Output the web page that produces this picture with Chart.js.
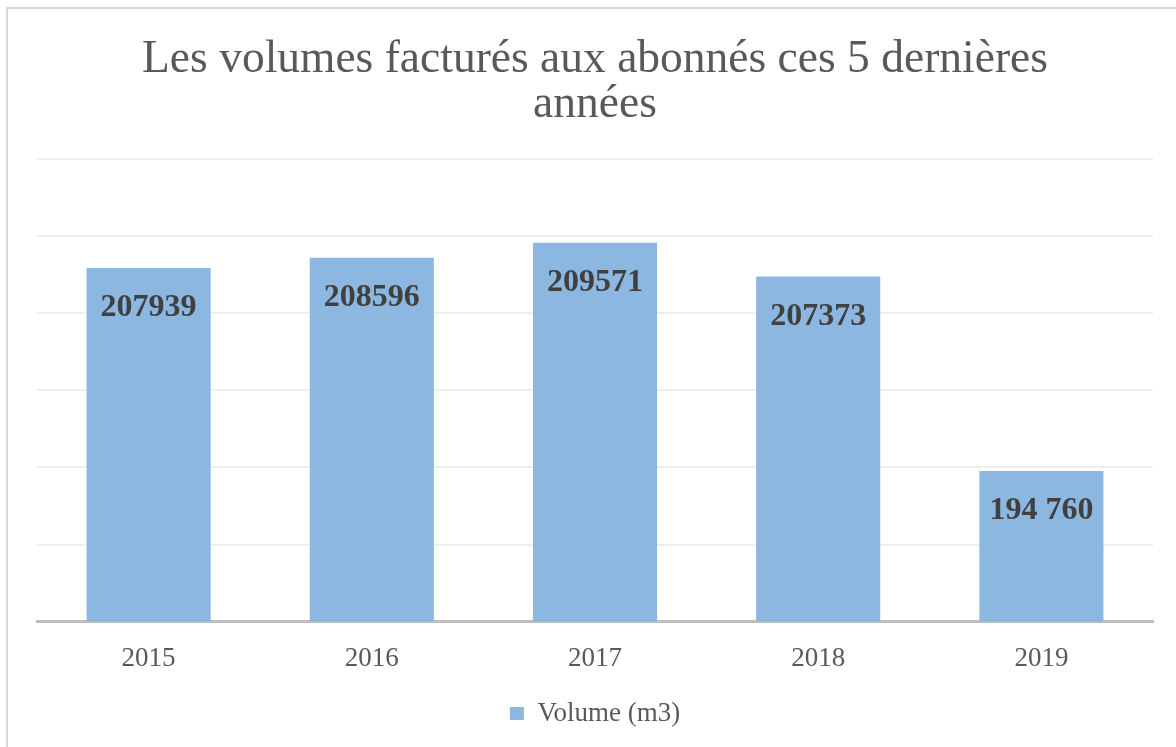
<!DOCTYPE html>
<html>
<head>
<meta charset="utf-8">
<script src="https://cdn.jsdelivr.net/npm/chart.js@4.4.0/dist/chart.umd.min.js"></script>
<style>
  html, body { margin: 0; padding: 0; background: #fff; }
  #frame { position: absolute; left: 6px; top: 7px; width: 1300px; height: 900px;
           border-left: 2px solid #d9d9d9; border-top: 2px solid #d9d9d9; }
  #wrap { position: absolute; left: 0; top: 0; width: 1176px; height: 747px; }
</style>
</head>
<body>
<div id="frame"></div>
<div id="wrap"><canvas id="chart" width="1176" height="747"></canvas></div>
<script>
// donnees
var years = ['2015', '2016', '2017', '2018', '2019'];
var volumes = [207939, 208596, 209571, 207373, 194760];
var volumeLabels = ['207939', '208596', '209571', '207373', '194 760'];

// etiquettes de valeur dans les barres
var barLabels = {
    id: 'barLabels',
    afterDatasetsDraw: function(chart) {
        var ctx = chart.ctx;
        var meta = chart.getDatasetMeta(0);
        ctx.save();
        ctx.font = 'bold 32px "Liberation Serif"';
        ctx.fillStyle = '#404040';
        ctx.textAlign = 'center';
        ctx.textBaseline = 'middle';
        for (var i = 0; i < meta.data.length; i++) {
            var bar = meta.data[i];
            ctx.fillText(volumeLabels[i], bar.x, bar.y + 40);
        }
        ctx.restore();
    }
};

var ctx = document.getElementById('chart').getContext('2d');
var chart = new Chart(ctx, {
    type: 'bar',
    data: {
        labels: years,
        datasets: [{
            label: 'Volume (m3)',
            data: volumes,
            backgroundColor: '#8cb7e0',
            borderWidth: 0,
            categoryPercentage: 1,
            barPercentage: 0.556
        }]
    },
    options: {
        responsive: false,
        animation: false,
        layout: { padding: { left: 37, right: 23, top: 0, bottom: 10 } },
        plugins: {
            title: {
                display: true,
                text: ['Les volumes facturés aux abonnés ces 5 dernières', 'années'],
                color: '#595959',
                font: { family: '"Liberation Serif"', size: 45.5, weight: 'normal', lineHeight: 1.0 },
                padding: { top: 37, bottom: 31 }
            },
            legend: {
                position: 'bottom',
                labels: {
                    color: '#595959',
                    font: { family: '"Liberation Serif"', size: 27 },
                    boxWidth: 14,
                    boxHeight: 13,
                    padding: 12
                }
            },
            tooltip: { enabled: false }
        },
        scales: {
            x: {
                grid: { display: false },
                border: { color: '#bfbfbf', width: 3 },
                ticks: {
                    color: '#595959',
                    font: { family: '"Liberation Serif"', size: 27 },
                    padding: 13
                }
            },
            y: {
                min: 185000,
                max: 215000,
                border: { display: false },
                grid: {
                    drawTicks: false,
                    lineWidth: 2,
                    color: function(c) {
                        return c.tick && c.tick.value === 185000 ? 'rgba(0,0,0,0)' : '#eeeeee';
                    }
                },
                ticks: { display: false, stepSize: 5000 }
            }
        }
    },
    plugins: [barLabels]
});
</script>
</body>
</html>
